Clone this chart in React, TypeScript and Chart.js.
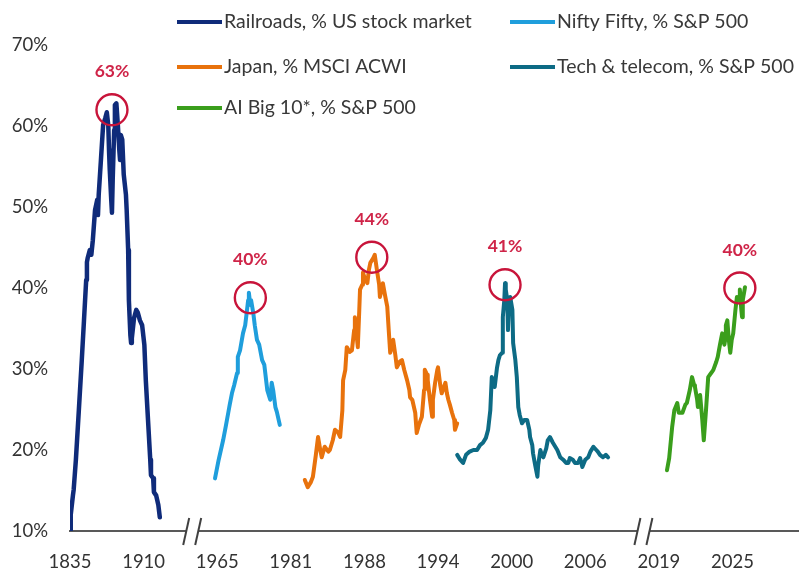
import React, { useEffect, useRef } from 'react';
import { Chart, registerables } from 'chart.js';
Chart.register(...registerables);

// x positions are in axis "slot" units: tick i sits at x = i
const tickLabels = ['1835', '1910', '1965', '1981', '1988', '1994', '2000', '2006', '2019', '2025'];
const yTicks = [10, 20, 30, 40, 50, 60, 70];

const railroadsX = [0.00, 0.01, 0.04, 0.05, 0.08, 0.12, 0.16, 0.19, 0.22, 0.23, 0.24, 0.27, 0.29, 0.31, 0.34, 0.37, 0.38, 0.39, 0.42, 0.45, 0.48, 0.50, 0.52, 0.53, 0.54, 0.56, 0.57, 0.58, 0.60, 0.61, 0.63, 0.65, 0.67, 0.68, 0.69, 0.71, 0.73, 0.76, 0.77, 0.79, 0.80, 0.82, 0.83, 0.84, 0.87, 0.90, 0.92, 0.95, 0.98, 1.01, 1.03, 1.06, 1.09, 1.10, 1.13, 1.14, 1.17, 1.20, 1.22];
const railroadsY = [10.1, 12.0, 14.4, 15.1, 18.8, 24.9, 31.1, 36.0, 41.0, 43.2, 43.7, 44.7, 44.1, 45.9, 49.6, 50.9, 49.0, 51.5, 55.8, 60.1, 61.0, 61.7, 60.1, 57.0, 54.6, 50.9, 49.3, 53.3, 59.5, 62.6, 62.8, 60.1, 57.0, 55.8, 58.9, 58.3, 54.0, 51.5, 49.6, 44.7, 38.5, 34.2, 33.2, 33.8, 36.3, 37.3, 37.0, 36.0, 35.4, 33.0, 28.6, 23.7, 18.8, 16.9, 16.5, 14.8, 14.4, 13.2, 11.7];

const niftyX = [1.97, 2.02, 2.08, 2.12, 2.15, 2.17, 2.20, 2.23, 2.27, 2.28, 2.31, 2.35, 2.38, 2.40, 2.42, 2.43, 2.45, 2.46, 2.49, 2.51, 2.54, 2.57, 2.61, 2.64, 2.68, 2.72, 2.74, 2.76, 2.79, 2.81, 2.85];
const niftyY = [16.5, 18.8, 21.2, 23.1, 24.6, 25.6, 27.0, 28.0, 29.5, 31.5, 32.3, 34.4, 35.4, 36.9, 38.5, 39.4, 37.9, 38.5, 36.9, 35.4, 33.6, 33.0, 31.1, 30.5, 27.4, 26.2, 28.3, 27.4, 25.3, 24.7, 23.1];

const japanX = [3.19, 3.23, 3.27, 3.30, 3.34, 3.37, 3.40, 3.42, 3.46, 3.51, 3.53, 3.57, 3.60, 3.64, 3.67, 3.70, 3.71, 3.74, 3.76, 3.80, 3.83, 3.86, 3.87, 3.90, 3.91, 3.93, 3.94, 3.97, 3.98, 4.01, 4.04, 4.06, 4.08, 4.12, 4.14, 4.17, 4.20, 4.21, 4.24, 4.25, 4.28, 4.31, 4.33, 4.35, 4.38, 4.39, 4.42, 4.44, 4.48, 4.51, 4.54, 4.58, 4.61, 4.62, 4.65, 4.69, 4.71, 4.74, 4.78, 4.81, 4.82, 4.85, 4.86, 4.89, 4.92, 4.93, 4.96, 4.99, 5.00, 5.03, 5.05, 5.10, 5.12, 5.14, 5.16, 5.19, 5.22, 5.23, 5.26];
const japanY = [16.3, 15.4, 16.0, 16.7, 19.4, 21.6, 20.0, 19.1, 20.4, 19.8, 20.0, 21.2, 22.5, 22.2, 21.6, 24.9, 28.6, 29.9, 32.7, 32.1, 32.3, 34.8, 36.4, 33.6, 32.7, 37.3, 39.8, 40.4, 41.9, 41.0, 40.6, 42.2, 43.1, 43.7, 44.1, 42.2, 40.4, 38.9, 40.0, 40.6, 39.1, 37.7, 34.8, 32.0, 33.0, 33.6, 31.7, 30.2, 30.9, 31.1, 29.9, 28.6, 27.4, 26.5, 26.2, 24.6, 22.1, 23.1, 24.1, 27.4, 29.9, 29.3, 28.6, 26.2, 24.1, 26.2, 28.3, 29.9, 30.2, 28.0, 27.0, 28.3, 27.0, 26.2, 25.6, 24.6, 23.7, 22.5, 23.3];

const techX = [5.26, 5.30, 5.34, 5.38, 5.43, 5.48, 5.53, 5.57, 5.61, 5.65, 5.68, 5.71, 5.73, 5.76, 5.77, 5.80, 5.82, 5.84, 5.87, 5.88, 5.90, 5.91, 5.92, 5.94, 5.95, 5.96, 5.98, 6.01, 6.02, 6.05, 6.07, 6.09, 6.11, 6.14, 6.17, 6.21, 6.24, 6.25, 6.28, 6.29, 6.32, 6.35, 6.36, 6.39, 6.41, 6.43, 6.47, 6.49, 6.52, 6.56, 6.62, 6.66, 6.70, 6.74, 6.77, 6.79, 6.83, 6.86, 6.90, 6.93, 6.96, 7.00, 7.04, 7.07, 7.11, 7.15, 7.17, 7.20, 7.24, 7.28, 7.31];
const techY = [19.4, 18.8, 18.4, 19.4, 19.8, 20.0, 20.0, 20.6, 20.9, 21.5, 22.5, 24.9, 29.0, 28.0, 27.8, 30.1, 31.1, 31.7, 32.0, 36.4, 38.5, 40.6, 39.8, 38.5, 34.8, 37.3, 38.9, 37.3, 33.2, 31.1, 29.0, 25.3, 24.3, 23.3, 23.7, 23.7, 22.5, 21.6, 20.6, 19.6, 18.1, 16.7, 18.1, 20.0, 19.4, 19.1, 20.2, 21.2, 21.6, 20.9, 20.0, 19.1, 18.8, 18.4, 18.4, 19.0, 18.8, 18.4, 18.4, 19.0, 17.9, 18.8, 19.1, 19.8, 20.4, 20.0, 19.8, 19.4, 19.1, 19.4, 19.1];

const aiX = [8.11, 8.14, 8.18, 8.21, 8.25, 8.27, 8.32, 8.36, 8.38, 8.42, 8.45, 8.48, 8.49, 8.52, 8.53, 8.56, 8.59, 8.61, 8.64, 8.67, 8.71, 8.74, 8.78, 8.80, 8.83, 8.86, 8.89, 8.90, 8.91, 8.93, 8.95, 8.97, 8.99, 9.01, 9.04, 9.06, 9.09, 9.10, 9.12, 9.13, 9.14, 9.17];
const aiY = [17.5, 19.0, 22.8, 24.9, 25.8, 24.6, 24.6, 25.6, 25.8, 27.4, 29.0, 28.0, 27.8, 26.2, 25.3, 26.8, 23.7, 21.2, 24.9, 29.0, 29.5, 29.9, 30.9, 31.5, 33.0, 34.4, 33.0, 33.6, 35.4, 36.0, 33.6, 32.0, 33.6, 34.4, 37.3, 38.9, 38.5, 39.8, 37.3, 36.4, 38.5, 40.1];

const seriesNames = ['Railroads, % US stock market', 'Nifty Fifty, % S&P 500', 'Japan, % MSCI ACWI', 'Tech & telecom, % S&P 500', 'AI Big 10*, % S&P 500'];
const seriesColors = ['#0f2b7a', '#1f9edc', '#e8720c', '#0d6b85', '#3a9e1c'];

const peakX = [0.57, 2.45, 4.10, 5.91, 9.10];
const peakY = [62.0, 38.8, 43.8, 40.4, 40.0];
const peakLabels = ['63%', '40%', '44%', '41%', '40%'];

const breakX = [1.66, 7.79];

const xMax = 9.89;

const pairs = (xs: number[], ys: number[]) => xs.map((x, i) => ({ x, y: ys[i] }));

const FONT = 'Lato, "Open Sans", sans-serif';

const overlayPlugin = {
  id: 'overlay',
  afterDraw(chart: any) {
    const { ctx, scales, chartArea } = chart;
    const xs = scales.x;
    const ys = scales.y;
    ctx.save();
    // axis breaks
    const ay = chartArea.bottom;
    breakX.forEach((b) => {
      const px = xs.getPixelForValue(b);
      ctx.fillStyle = '#ffffff';
      ctx.fillRect(px - 6, ay - 3, 12, 6);
      ctx.strokeStyle = '#404040';
      ctx.lineWidth = 2;
      [-6, 6].forEach((d) => {
        ctx.beginPath();
        ctx.moveTo(px + d - 3, ay + 14);
        ctx.lineTo(px + d + 3, ay - 13);
        ctx.stroke();
      });
    });
    // peak circles + labels
    peakX.forEach((v, i) => {
      const px = xs.getPixelForValue(v);
      const py = ys.getPixelForValue(peakY[i]);
      ctx.beginPath();
      ctx.arc(px, py, 15.5, 0, Math.PI * 2);
      ctx.strokeStyle = '#c8143a';
      ctx.lineWidth = 2.4;
      ctx.stroke();
      ctx.fillStyle = '#cf2448';
      ctx.font = 'bold 17.5px ' + FONT;
      ctx.textAlign = 'center';
      ctx.textBaseline = 'middle';
      ctx.fillText(peakLabels[i], px, py - 38);
    });
    // legend
    const colX = [177, 510];
    const rowY = [22, 67, 108];
    seriesNames.forEach((name, i) => {
      const c = i % 2;
      const r = Math.floor(i / 2);
      const lx = colX[c];
      const ly = rowY[r];
      ctx.strokeStyle = seriesColors[i];
      ctx.lineWidth = 4;
      ctx.lineCap = 'butt';
      ctx.beginPath();
      ctx.moveTo(lx, ly);
      ctx.lineTo(lx + 45, ly);
      ctx.stroke();
      ctx.fillStyle = '#383838';
      ctx.font = '19.5px ' + FONT;
      ctx.textAlign = 'left';
      ctx.textBaseline = 'middle';
      ctx.fillText(name, lx + 47, ly);
    });
    ctx.restore();
  },
};

export default function App() {
  const ref = useRef<HTMLCanvasElement | null>(null);
  useEffect(() => {
    if (!ref.current) return;
    const data = [
      pairs(railroadsX, railroadsY),
      pairs(niftyX, niftyY),
      pairs(japanX, japanY),
      pairs(techX, techY),
      pairs(aiX, aiY),
    ];
    const chart = new Chart(ref.current, {
      type: 'line',
      data: {
        datasets: data.map((d, i) => ({
          label: seriesNames[i],
          data: d,
          borderColor: seriesColors[i],
          backgroundColor: seriesColors[i],
          borderWidth: i === 0 ? 4.5 : 4,
          pointRadius: 0,
          tension: 0,
          borderJoinStyle: 'round' as const,
          borderCapStyle: 'round' as const,
        })),
      },
      options: {
        animation: false,
        responsive: false,
        maintainAspectRatio: false,
        layout: { padding: { top: 45, right: 3, bottom: 0, left: 0 } },
        plugins: { legend: { display: false }, tooltip: { enabled: false } },
        scales: {
          x: {
            type: 'linear',
            min: 0,
            max: xMax,
            grid: { display: false, drawTicks: false },
            border: { display: true, color: '#595959', width: 2 },
            afterBuildTicks: (scale: any) => {
              scale.ticks = tickLabels.map((_, i) => ({ value: i }));
            },
            afterFit: (scale: any) => {
              scale.height = 42;
            },
            ticks: {
              autoSkip: false,
              maxRotation: 0,
              padding: 20,
              color: '#333333',
              font: { family: FONT, size: 18.5 },
              callback: (v: any) => tickLabels[Math.round(Number(v))] ?? '',
            },
          },
          y: {
            type: 'linear',
            min: 10,
            max: 70,
            grid: { display: false, drawTicks: false },
            border: { display: false },
            afterBuildTicks: (scale: any) => {
              scale.ticks = yTicks.map((v) => ({ value: v }));
            },
            afterFit: (scale: any) => {
              scale.width = 70;
            },
            ticks: {
              padding: 22,
              color: '#333333',
              font: { family: FONT, size: 18.5 },
              callback: (v: any) => v + '%',
            },
          },
        },
      },
      plugins: [overlayPlugin],
    });
    return () => chart.destroy();
  }, []);
  return (
    <div style={{ position: 'fixed', left: 0, top: 0, width: 801, height: 573, background: '#fff' }}>
      <canvas ref={ref} width={801} height={573} style={{ width: 801, height: 573, display: 'block' }} />
    </div>
  );
}
